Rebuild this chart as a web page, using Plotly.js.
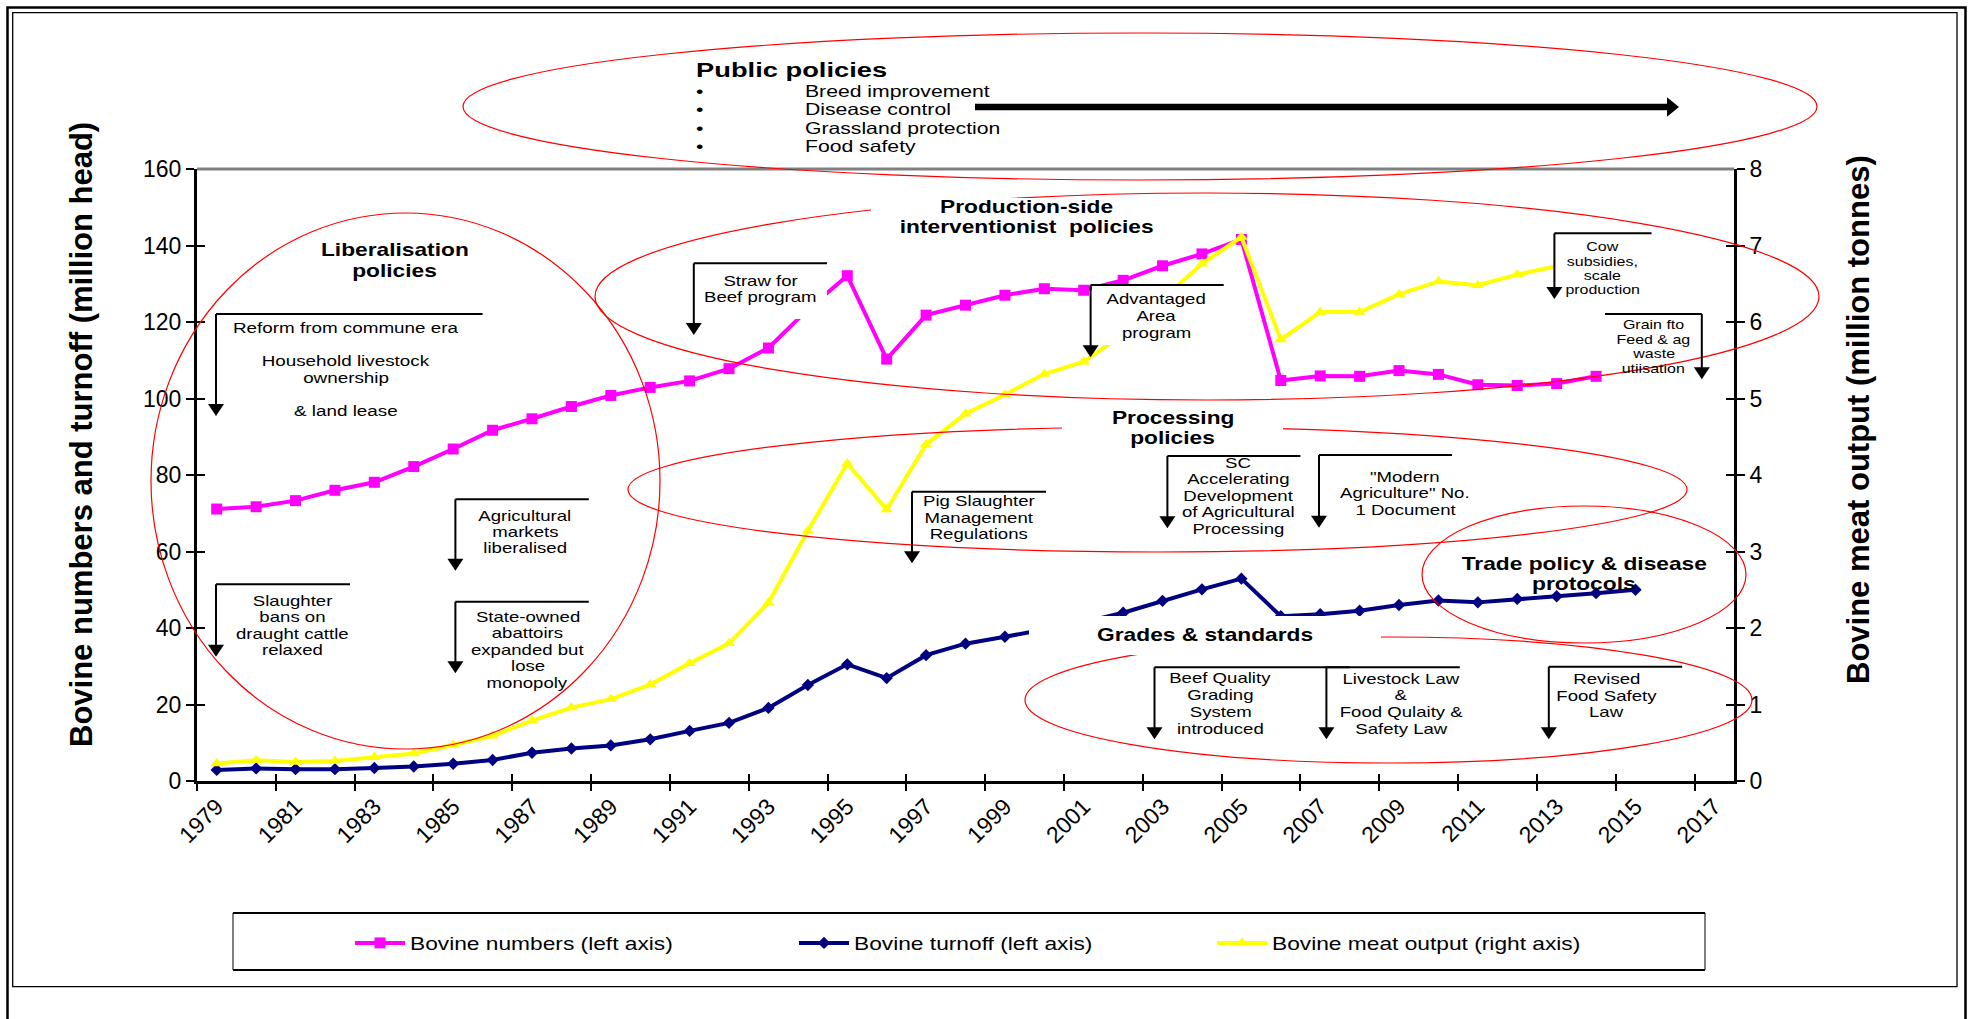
<!DOCTYPE html>
<html><head><meta charset="utf-8">
<script src="https://cdn.plot.ly/plotly-3.0.1.min.js"></script>
<style>html,body{margin:0;padding:0;background:#fff;}#chart{width:1968px;height:1019px;}</style>
</head><body><div id="chart"></div>
<script>
// ---------------- DATA ----------------
const years = [1979,1980,1981,1982,1983,1984,1985,1986,1987,1988,1989,1990,1991,1992,1993,1994,1995,1996,1997,1998,1999,2000,2001,2002,2003,2004,2005,2006,2007,2008,2009,2010,2011,2012,2013,2014,2015];
const bovineNumbers = [71.1,71.7,73.3,76.0,78.1,82.2,86.8,91.7,94.7,97.9,100.8,102.9,104.6,107.8,113.2,123.3,132.1,110.3,121.8,124.4,127.0,128.7,128.3,130.9,134.7,137.8,141.6,104.7,105.9,105.8,107.3,106.3,103.6,103.4,103.9,105.8,null];
const bovineTurnoff = [2.9,3.3,3.1,3.1,3.4,3.8,4.5,5.5,7.4,8.5,9.3,10.9,13.1,15.2,19.1,25.1,30.5,26.9,32.9,35.9,37.7,39.6,41.5,44.0,47.1,50.1,52.9,43.1,43.6,44.5,46.0,47.2,46.7,47.6,48.3,49.1,50.0];
const meatOutput = [0.23,0.27,0.25,0.26,0.31,0.36,0.47,0.59,0.79,0.96,1.07,1.26,1.54,1.80,2.33,3.27,4.15,3.55,4.40,4.80,5.05,5.32,5.48,5.84,6.30,6.76,7.11,5.77,6.13,6.13,6.36,6.53,6.48,6.62,6.73,6.89,7.00];
const tickYears = [1979,1981,1983,1985,1987,1989,1991,1993,1995,1997,1999,2001,2003,2005,2007,2009,2011,2013,2015,2017];
const leftTicks = [0,20,40,60,80,100,120,140,160];
const rightTicks = [0,1,2,3,4,5,6,7,8];
const seriesNames = ['Bovine numbers (left axis)','Bovine turnoff (left axis)','Bovine meat output (right axis)'];

// ---------------- GEOMETRY HELPERS ----------------
const FONT = 'Liberation Sans, Arial, Helvetica, sans-serif';
const PL = 197, PR = 1734, PT = 169, PB = 781;
const fx = x => (x - PL) / (PR - PL);
const fy = y => (PB - y) / (PB - PT);
const S = 1.3; // horizontal text stretch of the original picture

const shapes = [];
const annotations = [];
const noStretch = new Set();

function addLine(x1,y1,x2,y2,w,color){
  shapes.push({type:'line',xref:'paper',yref:'paper',x0:fx(x1),y0:fy(y1),x1:fx(x2),y1:fy(y2),line:{color:color||'#000',width:w},layer:'above'});
}
function addRect(x1,y1,x2,y2,opt){
  shapes.push(Object.assign({type:'rect',xref:'paper',yref:'paper',x0:fx(x1),y0:fy(y2),x1:fx(x2),y1:fy(y1),layer:'above'},opt));
}
function addEllipse(x1,y1,x2,y2){
  shapes.push({type:'circle',xref:'paper',yref:'paper',x0:fx(x1),y0:fy(y2),x1:fx(x2),y1:fy(y1),line:{color:'#FF0000',width:1.2},fillcolor:'rgba(0,0,0,0)',layer:'above'});
}
function addPoly(pts,color){
  const d = pts.map((p,i)=>(i?'L':'M')+fx(p[0]).toFixed(5)+','+fy(p[1]).toFixed(5)).join(' ')+' Z';
  shapes.push({type:'path',xref:'paper',yref:'paper',path:d,fillcolor:color,line:{width:0,color:color},layer:'above'});
}
function addText(t,x,y,size,opt){
  opt = opt||{};
  annotations.push({xref:'paper',yref:'paper',x:fx(x),y:fy(y),text:t,showarrow:false,
    xanchor:opt.xanchor||'center',yanchor:'middle',textangle:opt.angle||0,
    font:{family:FONT,size:size,color:'#000'}});
  if(opt.noStretch) noStretch.add(annotations.length-1);
}

// ---------------- FRAMES ----------------
addRect(7.5,7.5,1965.5,1040,{line:{color:'#000',width:2.5},fillcolor:'rgba(0,0,0,0)'});
addRect(12.7,12.7,1957,986.7,{line:{color:'#000',width:1.3},fillcolor:'rgba(0,0,0,0)'});
addLine(PL,PT,PR,PT,3,'#808080');

// ---------------- ELLIPSES ----------------
addEllipse(463,33,1817,180);     // public policies
addEllipse(151,213,660,749);     // liberalisation
addEllipse(595,193,1819,400);    // production-side
addEllipse(628,427,1687,552);    // processing
addEllipse(1422,506,1746,643);   // trade
addEllipse(1025,637,1752,763);   // grades

// ---------------- WHITE TEXT BOXES ----------------
const white = {line:{width:0,color:'rgba(0,0,0,0)'},fillcolor:'#FFFFFF'};
addRect(695,264,827,319,white);
addRect(1092,286,1224,345,white);
addRect(1029,616,1381,655,white);
addRect(871,198,1185,238,white);
addRect(1062,405,1283,447,white);
addRect(1555,234,1652,298,white);

// ---------------- CALLOUTS ----------------
const callouts = [
 {x:345.5,size:14.5,lines:['Reform from commune era','Household livestock','ownership','& land lease'],ys:[328.3,361,378.3,411],hl:[216,482.6,314],ar:[216,416]},
 {x:525,size:14.3,lines:['Agricultural','markets','liberalised'],ys:[515.7,532.3,548.3],hl:[455.4,588.8,499.3],ar:[455.4,570.7]},
 {x:292,size:14.3,lines:['Slaughter','bans on','draught cattle','relaxed'],ys:[601,617.3,634.3,650.3],hl:[216,350,584.3],ar:[216,656.7]},
 {x:527.7,size:14.3,lines:['State-owned','abattoirs','expanded but','lose','monopoly'],ys:[617.3,633.3,650,666,683.3],hl:[455.4,588.8,601.7],ar:[455.4,673.3]},
 {x:760,size:14.3,lines:['Straw for','Beef program'],ys:[281,297.3],hl:[693.8,827,263.3],ar:[693.8,335]},
 {x:978.6,size:14.3,lines:['Pig Slaughter','Management','Regulations'],ys:[501,518.3,534.3],hl:[912,1046,491.7],ar:[912,563.3]},
 {x:1156,size:14.3,lines:['Advantaged','Area','program'],ys:[299.3,316,332.7],hl:[1090.6,1223.7,285],ar:[1090.6,357.3]},
 {x:1238.4,size:14.3,lines:['SC','Accelerating','Development','of Agricultural','Processing'],ys:[463.3,479.3,496,512.3,529.3],hl:[1167.4,1300.4,456],ar:[1167.4,528.3]},
 {x:1405.2,size:14.3,lines:['"Modern','Agriculture" No.','1 Document'],ys:[477.3,493.3,510],hl:[1319,1452,455],ar:[1319,527.7]},
 {x:1220.5,size:14.3,lines:['Beef Quality','Grading','System','introduced'],ys:[678.3,695.3,712,728.7],hl:[1154.5,1349.6,667.3],ar:[1154.5,739.3]},
 {x:1401.4,size:14.3,lines:['Livestock Law','&','Food Qulaity &','Safety Law'],ys:[678.7,695.3,712,728.7],hl:[1325,1459.8,667.3],ar:[1326.4,739.3]},
 {x:1606.8,size:14.3,lines:['Revised','Food Safety','Law'],ys:[679.3,696,712],hl:[1548.8,1682.2,666.7],ar:[1548.8,739.3]},
 {x:1602.5,size:12.3,lines:['Cow','subsidies,','scale','production'],ys:[246.7,261.7,276,290],hl:[1554.4,1651.5,233.3],ar:[1554.4,299]},
 {x:1653.6,size:12.3,lines:['Grain fto','Feed & ag','waste','utiisation'],ys:[324.7,340,354,368.7],hl:[1605,1701.8,314],ar:[1701.8,379.3]}
];
callouts.forEach(c=>{
  const [hx1,hx2,hy] = c.hl; const [ax,tip] = c.ar;
  addLine(hx1,hy,hx2,hy,2);
  addLine(ax,hy,ax,tip-11,2);
  addPoly([[ax-8,tip-12],[ax+8,tip-12],[ax,tip]],'#000');
  c.lines.forEach((t,i)=>addText(t,c.x,c.ys[i],c.size));
});

// ---------------- BOLD BLOCK TITLES ----------------
const blockTitles = [
 {x:394.6,lines:['Liberalisation','policies'],ys:[250,270.7]},
 {x:1026.5,lines:['Production-side','interventionist\u00a0 policies'],ys:[206.7,226.7]},
 {x:1172.5,lines:['Processing','policies'],ys:[418.3,438.3]},
 {x:1205,lines:['Grades & standards'],ys:[635]},
 {x:1584,lines:['Trade policy & disease','protocols'],ys:[564.3,584.3]}
];
blockTitles.forEach(b=>b.lines.forEach((t,i)=>addText('<b>'+t+'</b>',b.x,b.ys[i],17.5)));

// ---------------- PUBLIC POLICIES ----------------
addText('<b>Public policies</b>',694,69.3,21,{xanchor:'left'});
const publicItems = ['Breed improvement','Disease control','Grassland protection','Food safety'];
const publicYs = [90.7,109.3,127.7,146];
publicItems.forEach((t,i)=>{
  addText('\u2022',694,publicYs[i],16.3,{xanchor:'left'});
  addText(t,803.3,publicYs[i],16.3,{xanchor:'left'});
});
addPoly([[975,103.8],[1667,103.8],[1667,97.3],[1679,107],[1667,116.7],[1667,110.2],[975,110.2]],'#000');

// ---------------- AXIS TITLES ----------------
addText('<b>Bovine numbers and turnoff (million head)</b>',81,435,31,{angle:-90,noStretch:true});
addText('<b>Bovine meat output (million tonnes)</b>',1858,420,31,{angle:-90,noStretch:true});

// ---------------- LEGEND BOX ----------------
addRect(233,913,1705,970,{line:{color:'#000',width:1},fillcolor:'rgba(0,0,0,0)'});
addLine(233,913,1705,913,2);
addLine(233,970,1705,970,2);

// ---------------- TRACES ----------------
const data = [
  {type:'scatter',mode:'lines+markers',name:seriesNames[0],x:years,y:bovineNumbers,xaxis:'x',yaxis:'y',legendwidth:379,
   line:{color:'#FF00FF',width:4},marker:{symbol:'square',size:11,color:'#FF00FF'},hoverinfo:'skip'},
  {type:'scatter',mode:'lines+markers',name:seriesNames[1],x:years,y:bovineTurnoff,xaxis:'x',yaxis:'y',legendwidth:353,
   line:{color:'#000080',width:4},marker:{symbol:'diamond',size:9.5,color:'#000080'},hoverinfo:'skip'},
  {type:'scatter',mode:'lines+markers',name:seriesNames[2],x:years,y:meatOutput,xaxis:'x',yaxis:'y2',legendwidth:366,
   line:{color:'#FFFF00',width:4},marker:{symbol:'triangle-up',size:11,color:'#FFFF00'},hoverinfo:'skip'},
  {type:'scatter',x:[],y:[],xaxis:'x2',yaxis:'y',showlegend:false,hoverinfo:'skip'},
  {type:'scatter',x:[],y:[],xaxis:'x',yaxis:'y3',showlegend:false,hoverinfo:'skip'},
  {type:'scatter',x:[],y:[],xaxis:'x',yaxis:'y4',showlegend:false,hoverinfo:'skip'}
];

const boundaries = tickYears.map(y=>y-0.5);
const tickFont = {family:FONT,size:23,color:'#000'};
const xr = [1978.5,2017.5];
const layout = {
  width:1968,height:1019,
  margin:{l:PL,r:1968-PR,t:PT,b:1019-PB,pad:0,autoexpand:false},
  paper_bgcolor:'#FFFFFF',plot_bgcolor:'#FFFFFF',
  font:{family:FONT,color:'#000'},
  showlegend:true,
  xaxis:{range:xr,tickmode:'array',tickvals:tickYears,ticktext:tickYears.map(String),tickangle:-45,
    ticks:'',showline:true,linecolor:'#000',linewidth:3,showgrid:false,zeroline:false,tickfont:{family:FONT,size:23,color:'#000'},
    minor:{tickmode:'array',tickvals:boundaries,ticks:'outside',ticklen:7,tickwidth:2,tickcolor:'#000',showgrid:false},fixedrange:true},
  xaxis2:{range:xr,overlaying:'x',anchor:'y',side:'bottom',tickmode:'array',tickvals:boundaries,ticks:'inside',ticklen:7,tickwidth:2,tickcolor:'#000',
    showticklabels:false,showline:false,showgrid:false,zeroline:false,fixedrange:true},
  yaxis:{range:[0,160],tickmode:'array',tickvals:leftTicks,ticks:'outside',ticklen:8,tickwidth:2,tickcolor:'#000',
    showline:true,linecolor:'#000',linewidth:3,showgrid:false,zeroline:false,tickfont:tickFont,fixedrange:true},
  yaxis2:{range:[0,8],overlaying:'y',side:'right',anchor:'x',tickmode:'array',tickvals:rightTicks,ticks:'outside',ticklen:8,tickwidth:2,tickcolor:'#000',
    showline:true,linecolor:'#000',linewidth:3,showgrid:false,zeroline:false,tickfont:tickFont,fixedrange:true},
  yaxis3:{range:[0,160],overlaying:'y',side:'left',anchor:'x',tickmode:'array',tickvals:leftTicks,ticks:'inside',ticklen:8,tickwidth:2,tickcolor:'#000',
    showticklabels:false,showline:false,showgrid:false,zeroline:false,fixedrange:true},
  yaxis4:{range:[0,8],overlaying:'y',side:'right',anchor:'x',tickmode:'array',tickvals:rightTicks,ticks:'inside',ticklen:8,tickwidth:2,tickcolor:'#000',
    showticklabels:false,showline:false,showgrid:false,zeroline:false,fixedrange:true},
  legend:{orientation:'h',x:fx(350),xanchor:'left',y:fy(943),yanchor:'middle',font:{family:FONT,size:17.5,color:'#000'},
    itemwidth:50,entrywidth:366,bgcolor:'rgba(0,0,0,0)',borderwidth:0,traceorder:'normal'},
  shapes:shapes,
  annotations:annotations
};

const gd = document.getElementById('chart');
Plotly.newPlot(gd,data,layout,{staticPlot:true,displayModeBar:false}).then(function(){
  function stretch(t,anchor){
    const b = t.getBBox();
    const p = anchor==='left' ? b.x : (anchor==='right' ? b.x+b.width : b.x+b.width/2);
    t.setAttribute('transform','translate('+p+',0) scale('+S+',1) translate('+(-p)+',0)');
  }
  gd.querySelectorAll('g.annotation').forEach(function(g){
    const idx = +g.getAttribute('data-index');
    if(noStretch.has(idx)) return;
    const t = g.querySelector('text');
    if(t) stretch(t, annotations[idx].xanchor);
  });
  gd.querySelectorAll('g.legend text.legendtext').forEach(function(t){ stretch(t,'left'); });
});
</script></body></html>
